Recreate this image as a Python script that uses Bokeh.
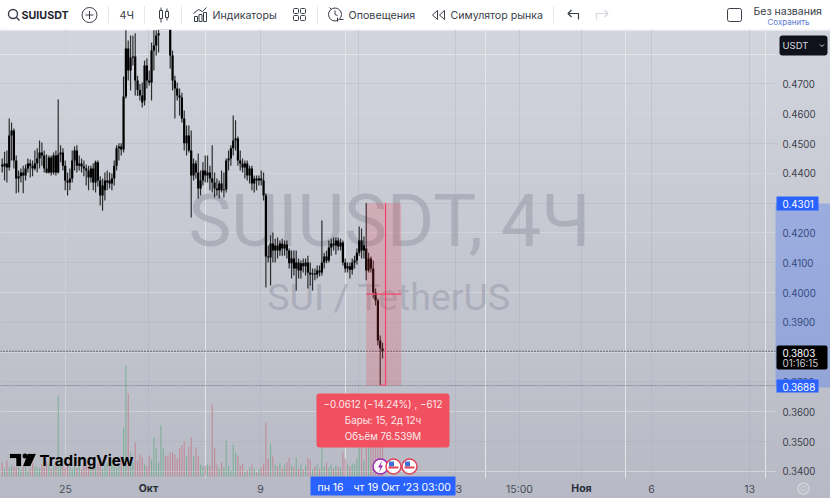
from bokeh.plotting import figure
from bokeh.models import Range1d, LinearAxis, FixedTicker, BoxAnnotation, Span, NumeralTickFormatter, Grid
from bokeh.core.properties import value
from bokeh.embed import file_html
from bokeh.resources import INLINE
import numpy as np

# ---------- data (prices in 1/10000 USDT, volume in relative units) ----------
open_e4 = [4430,4423,4433,4420,4527,4544,4443,4383,4390,4403,4393,4416,4433,4426,4416,4433,4450,4470,4460,4416,
 4403,4453,4403,4460,4403,4463,4470,4426,4376,4369,4383,4443,4477,4426,4433,4423,4416,4410,4386,4416,
 4369,4437,4376,4326,4343,4369,4376,4366,4383,4426,4484,4490,4480,4658,4819,4745,4789,4792,4712,4680,
 4661,4645,4762,4712,4705,4812,4829,4863,4890,4925,4960,4935,4896,4796,4712,4685,4661,4655,4584,4501,
 4527,4477,4393,4433,4403,4349,4376,4410,4393,4403,4383,4369,4349,4343,4366,4343,4346,4443,4450,4484,
 4510,4517,4443,4433,4420,4433,4393,4416,4366,4383,4376,4383,4376,4326,4121,4118,4165,4141,4158,4141,
 4165,4148,4161,4141,4098,4114,4081,4101,4074,4098,4088,4101,4067,4061,4064,4061,4074,4067,4101,4121,
 4108,4151,4165,4158,4175,4155,4168,4101,4081,4088,4077,4101,4108,4134,4175,4141,4148,4074,4114,4081,
 4000,3973,3839,3812]
close_e4 = [4423,4433,4420,4527,4544,4443,4383,4390,4403,4393,4416,4433,4426,4416,4433,4450,4470,4460,4416,4403,
 4453,4403,4460,4403,4463,4470,4426,4376,4369,4383,4443,4477,4426,4433,4423,4416,4410,4386,4416,4369,
 4437,4376,4326,4359,4376,4376,4366,4383,4426,4484,4490,4480,4658,4819,4745,4789,4792,4712,4680,4661,
 4638,4762,4712,4705,4812,4829,4863,4870,4925,4960,4935,4910,4796,4712,4685,4661,4655,4584,4501,4527,
 4477,4393,4433,4403,4349,4376,4410,4393,4403,4383,4369,4349,4343,4366,4343,4346,4443,4450,4484,4510,
 4517,4443,4433,4420,4433,4393,4416,4366,4383,4376,4383,4376,4326,4121,4118,4165,4141,4158,4141,4165,
 4148,4161,4141,4098,4114,4081,4101,4074,4098,4088,4101,4067,4061,4064,4061,4074,4067,4101,4121,4108,
 4151,4165,4158,4175,4155,4168,4101,4081,4088,4077,4101,4108,4134,4175,4141,4158,4074,4114,4081,4000,
 3973,3839,3812,3803]
high_e4 = [4450,4473,4477,4584,4571,4551,4460,4410,4416,4426,4430,4450,4447,4443,4477,4484,4510,4504,4477,4463,
 4460,4460,4470,4477,4648,4494,4484,4443,4403,4416,4477,4490,4494,4460,4450,4443,4430,4426,4426,4433,
 4443,4443,4390,4383,4403,4410,4403,4400,4443,4494,4501,4501,4725,4880,4846,4863,4863,4870,4728,4700,
 4705,4779,4786,4745,4839,4880,4880,4890,4960,4990,4990,4960,4930,4812,4728,4705,4685,4671,4611,4561,
 4561,4544,4450,4443,4467,4410,4437,4460,4460,4426,4494,4403,4383,4376,4410,4403,4450,4477,4494,4594,
 4578,4524,4477,4450,4443,4443,4426,4426,4393,4393,4393,4410,4403,4333,4158,4192,4202,4181,4185,4175,
 4181,4175,4175,4148,4141,4141,4141,4114,4108,4114,4114,4124,4101,4081,4081,4091,4091,4242,4134,4141,
 4175,4181,4185,4185,4185,4181,4175,4114,4101,4101,4114,4124,4148,4222,4215,4188,4301,4134,4121,4108,
 4014,3980,3856,3832]
low_e4 = [4403,4376,4369,4410,4443,4416,4333,4336,4369,4333,4376,4403,4386,4390,4410,4403,4416,4426,4403,4400,
 4400,4393,4396,4393,4400,4437,4410,4343,4326,4343,4369,4410,4403,4410,4403,4390,4359,4343,4369,4343,
 4336,4356,4292,4275,4309,4343,4349,4343,4359,4410,4443,4460,4470,4651,4712,4678,4762,4661,4660,4645,
 4621,4628,4685,4695,4645,4745,4796,4806,4885,4910,4920,4895,4752,4678,4584,4645,4594,4571,4477,4460,
 4470,4252,4376,4383,4316,4326,4359,4369,4369,4343,4336,4319,4326,4316,4336,4319,4336,4410,4426,4460,
 4477,4426,4410,4403,4383,4376,4366,4343,4336,4343,4359,4359,4309,4017,4101,4024,4101,4101,4114,4124,
 4124,4124,4114,4081,4047,4057,4007,4047,4047,4067,4057,4014,4024,4007,4041,4047,4054,4057,4081,4098,
 4101,4124,4141,4128,4141,4141,4091,4067,4067,4047,4061,4081,4094,4124,4114,4114,4041,4067,4067,3980,
 3957,3822,3688,3779]
volume = [14,8,16,9,12,10,15,18,7,12,10,6,9,14,11,10,8,12,9,15,13,8,11,14,
 81,16,11,9,14,10,8,12,9,13,7,11,15,10,12,14,9,13,18,8,12,14,10,16,12,9,11,20,
 49,111,83,24,14,34,16,22,19,12,10,21,17,39,28,14,51,28,21,20,24,24,22,18,28,31,35,20,30,39,20,29,21,
 12,10,11,12,11,72,28,12,8,14,9,36,11,6,32,24,21,11,13,5,6,9,12,8,4,7,9,13,54,18,33,20,12,10,13,8,12,14,
 19,11,9,19,8,12,7,11,19,17,7,10,12,8,28,10,14,9,12,8,11,10,9,24,18,12,10,13,12,18,28,28,16,40,28,45,50,55,70,75,55]
volume_up = [c >= o for o, c in zip(open_e4, close_e4)]
price_ticks = [0.34,0.35,0.36,0.37,0.38,0.39,0.40,0.41,0.42,0.43,0.44,0.45,0.46,0.47]
time_ticks = [0.0,5.93,13.93,20.93,27.86,32.43,36.86,41.86,48.86]
time_labels = ["25","","9","16","23","15:00","","6","13"]
measure_high, measure_low, last_price = 0.4301, 0.3688, 0.3803
measure_start_bar, measure_bars = 156, 15
crosshair_day = 22.86
measure_mid_price = 0.3995

def xd(px): return (px - 65) / 14
def pd_(py): return (4980.2 - 3.356 * py) / 1e4

W, TOP, H = 830, 29, 498
FRAME_BOTTOM = 478

# ---------- main chart ----------
bar_day = np.array([-4.52 + i / 6 for i in range(len(open_e4))])
o, c, hi, lo = [np.array(a) / 1e4 for a in (open_e4, close_e4, high_e4, low_e4)]
p = figure(width=W, height=H - TOP, x_range=Range1d(xd(0), xd(775)), y_range=Range1d(pd_(FRAME_BOTTOM), pd_(TOP)),
           toolbar_location=None, output_backend="svg", x_axis_location=None, y_axis_location=None,
           min_border_left=0, min_border_top=0, min_border_right=55, min_border_bottom=20,
           background_fill_color=None, border_fill_color=None, outline_line_color=None,
           styles={"position": "absolute", "left": "0", "top": "29px",
                   "background": "linear-gradient(#e9eaef 0, #e9eaef 2px, #d2d5dd 2px, #b7b9c4 100%)"})
p.extra_y_ranges = {"vol": Range1d(-2, 447)}

yax = LinearAxis(ticker=FixedTicker(ticks=price_ticks), major_tick_line_color=None, minor_tick_line_color=None,
                 major_tick_in=0, major_tick_out=0, minor_tick_in=0, minor_tick_out=0,
                 axis_line_color=None, major_label_standoff=7, major_label_text_font="Inter",
                 major_label_text_font_size="9.7px", major_label_text_color="#3d414c",
                 formatter=NumeralTickFormatter(format="0.0000"))
p.add_layout(yax, "right")
xax = LinearAxis(ticker=FixedTicker(ticks=time_ticks), major_tick_line_color=None, minor_tick_line_color=None,
                 major_tick_in=0, major_tick_out=0, minor_tick_in=0, minor_tick_out=0,
                 axis_line_color=None, major_label_standoff=4, major_label_text_font="Inter",
                 major_label_text_font_size="10.5px", major_label_text_color="#4a4e5a",
                 major_label_overrides={t: l for t, l in zip(time_ticks, time_labels)})
p.add_layout(xax, "below")
p.add_layout(Grid(dimension=0, ticker=xax.ticker, grid_line_color="#a9acb9", grid_line_alpha=0.35, grid_line_width=1))
p.add_layout(Grid(dimension=1, ticker=yax.ticker, grid_line_color="#a9acb9", grid_line_alpha=0.30, grid_line_width=1))

# watermark
p.text([xd(389)], [pd_(221)], ["SUIUSDT, 4Ч"], text_font=value("Roboto"), text_font_size="72px",
       text_color="#9ea1ae", text_alpha=0.65, text_align="center", text_baseline="alphabetic")
p.text([xd(388.5)], [pd_(296)], ["SUI / TetherUS"], text_font=value("Roboto"), text_font_size="37.5px",
       text_color="#9ea1ae", text_alpha=0.65, text_align="center", text_baseline="alphabetic")

# volume
vc = ["#5ea77f" if u else "#c2727f" for u in volume_up]
p.vbar(x=bar_day, top=volume, bottom=0, width=1.1 / 14, fill_color=vc, line_color=None, fill_alpha=0.65, y_range_name="vol")

# candles
p.segment(bar_day, hi, bar_day, lo, line_color="#111111", line_width=1.2, line_alpha=0.85)
p.vbar(x=bar_day, top=np.maximum(o, c), bottom=np.minimum(o, c), width=2.2 / 14, fill_color="#000000", line_color=None)

# price lines
p.add_layout(Span(location=last_price, dimension="width", line_color="#111111", line_dash="1 2", line_width=1))
p.add_layout(Span(location=measure_low, dimension="width", line_color="#7d808c", line_dash="2 1", line_width=1, line_alpha=0.8))

# measure
mx0 = bar_day[measure_start_bar]
p.add_layout(BoxAnnotation(left=mx0, right=mx0 + measure_bars / 6, top=measure_high, bottom=measure_low,
                           fill_color="#f23645", fill_alpha=0.2, line_color=None))
p.add_layout(Span(location=measure_mid_price, dimension="width", line_alpha=0))
p.segment([crosshair_day, mx0], [measure_high, measure_mid_price], [crosshair_day, mx0 + measure_bars / 6],
          [measure_low, measure_mid_price], line_color="#f5426a", line_width=1.2, level="overlay")
p.line([crosshair_day - 0.4, crosshair_day, crosshair_day], [measure_low + 0.0003, measure_low, measure_low + 0.0012],
       line_color="#f5426a", line_width=1, level="overlay")

# ---------- overlay in window pixels: toolbar, scale tags, tooltip, logo ----------
ov = figure(width=W, height=H, x_range=Range1d(0, W), y_range=Range1d(H, 0),
            toolbar_location=None, output_backend="svg", min_border=0, x_axis_location=None, y_axis_location=None,
            background_fill_color=None, border_fill_color=None, outline_line_color=None,
            styles={"position": "absolute", "left": "0", "top": "0"})
ov.grid.visible = False

def box(l, r, t, b, color, alpha=1.0, radius=0, line=None):
    ov.quad(left=[l], right=[r], top=[t], bottom=[b], fill_color=color, fill_alpha=alpha, line_color=line,
            border_radius=radius)
def lab(x, y, t, size="11px", color="#ffffff", style="normal", align="left", font="Inter"):
    ov.text([x], [y], [t], text_font=value(font), text_font_size=size, text_color=color, text_font_style=style,
            text_align=align, text_baseline="middle")

box(0, W, 0, TOP, "#ffffff")
ICON = "#3a3e49"
lab(21, 14.5, "SUIUSDT", "10.7px", "#1e222d", "bold")
lab(119, 15, "4Ч", "10.7px", ICON)
lab(212, 15, "Индикаторы", "10.6px", ICON)
lab(348, 15, "Оповещения", "10.7px", ICON)
lab(450, 15, "Симулятор рынка", "10.6px", ICON)
lab(753, 11, "Без названия", "10.5px", ICON)
lab(767, 21, "Сохранить", "8px", "#5b7bd0")
ov.segment([108,144,181,317,553],[6]*5,[108,144,181,317,553],[23]*5,line_color="#e6e7eb",line_width=1)
ov.scatter([12.5],[13.5],size=9,marker="circle",fill_color=None,line_color=ICON,line_width=1.4)
ov.segment([15.5],[16.5],[19],[20],line_color=ICON,line_width=1.4)
ov.scatter([89],[14.5],size=15,marker="circle",fill_color=None,line_color=ICON,line_width=1)
ov.segment([85,89],[14.5,10.5],[93,89],[14.5,18.5],line_color=ICON,line_width=1)
ov.quad(left=[159,165],right=[162,168],top=[10,11],bottom=[18,17],fill_color=None,line_color=ICON,line_width=1)
ov.segment([160.5,166.5,160.5,166.5],[7,8,18,17],[160.5,166.5,160.5,166.5],[10,11,22,20],line_color=ICON,line_width=1)
ov.quad(left=[194,198.5,203],right=[197,201.5,206],top=[16,14,12],bottom=[21,21,21],fill_color=None,line_color=ICON,line_width=1)
ov.line([193,198,202,206],[13,9,11,7],line_color=ICON,line_width=1)
ov.quad(left=[293,300,293,300],right=[298,305,298,305],top=[8,8,15,15],bottom=[13,13,20,20],
        fill_color=None,line_color=ICON,line_width=1,border_radius=1)
ov.scatter([334.5],[14],size=13,marker="circle",fill_color="white",line_color=ICON,line_width=1)
ov.segment([334.5,334.5,339,337,329],[10,14,19,21,7],[334.5,337,343,337,331],[14,15,19,17,9],line_color=ICON,line_width=1)
ov.patches([[437,437,432],[444,444,439]],[[10,19,14.5],[10,19,14.5]],fill_color=None,line_color=ICON,line_width=1)
ov.line([568,578,578],[13,13,19],line_color=ICON,line_width=1.2)
ov.line([571,567.5,571],[9.5,13,16.5],line_color=ICON,line_width=1.2)
ov.line([607,596,596],[13,13,19],line_color="#d5d6dc",line_width=1.2)
ov.line([604,607.5,604],[9.5,13,16.5],line_color="#d5d6dc",line_width=1.2)
ov.quad(left=[727],right=[741],top=[8],bottom=[21],fill_color=None,line_color=ICON,line_width=1,border_radius=2)

# scale band and tags
box(775, 830, 203, 387, "#2962ff", 0.28)
box(776, 818, 196, 210, "#2962ff")
lab(782, 203.5, "0.4301", "9.8px")
box(776, 827, 345, 369, "#000000", 1, 2)
lab(782, 352, "0.3803", "9.8px")
lab(782, 363, "01:16:15", "9.8px", "#c9cbd2")
box(776, 818, 379, 392, "#2962ff")
lab(782, 386, "0.3688", "9.8px")
box(779, 827, 35, 55, "#0f121b", 1, 3)
lab(782, 45, "USDT", "9.5px", "#d8dae0")
ov.line([819.5,821.5,823.5],[44,46,44],line_color="#d8dae0",line_width=1)

# tooltip
box(316, 449, 393, 447, "#f0505f", 1, 3)
lab(382.5, 404, "−0.0612 (−14.24%) , −612", "9.8px", "#ffe9ea", align="center")
lab(382.5, 420, "Бары: 15, 2д 12ч", "9.8px", "#ffe9ea", align="center")
lab(382.5, 436, "Объём 76.539M", "9.8px", "#ffe9ea", align="center")

# events
ov.scatter([380], [466], size=15, marker="circle", fill_color="white", line_color="#9c27b0", line_width=1.5)
ov.scatter([393, 409], [466] * 2, size=15, marker="circle", fill_color="white", line_color="#e0455a", line_width=1.5)
ov.patch([381.5,377.5,380,378.5,382.5,380], [460,467,467,472,465,465], fill_color="#9c27b0", line_color=None)
ov.quad(left=[388.5,404.5], right=[393.5,409.5], top=[461]*2, bottom=[466]*2, fill_color="#3f6fd8", line_color=None)
ov.quad(left=[388,404], right=[398,414], top=[466]*2, bottom=[468]*2, fill_color="#e0455a", line_color=None)

# logo
ov.patches([[9,21,21,15.5,15.5,9],[27,36,30,22]], [[453,453,466,466,458,458],[453,453,466,466]],
           fill_color="#000000", line_color="white", line_width=0.5)
ov.scatter([24.5], [455.5], size=5, marker="circle", fill_color="#000000", line_color=None)
lab(39, 460, "TradingView", "15.2px", "#000000", "bold")

# time tags
lab(148, 488, "Окт", "10.5px", "#2a2e39", "bold", "center")
lab(581, 488, "Ноя", "10.5px", "#2a2e39", "bold", "center")
box(310, 455, 476, 495, "#2962ff")
lab(317, 487, "пн 16", "10.5px")
lab(353, 487, "чт 19 Окт '23", "10.5px")
lab(421, 487, "03:00", "10.5px")
ov.scatter([803], [488], size=11, marker="circle", fill_color=None, line_color="#d2d4da", line_width=1.5)
ov.scatter([803], [488], size=5, marker="circle", fill_color=None, line_color="#d2d4da", line_width=1)

open("out.html", "w").write(file_html([p, ov], INLINE))
